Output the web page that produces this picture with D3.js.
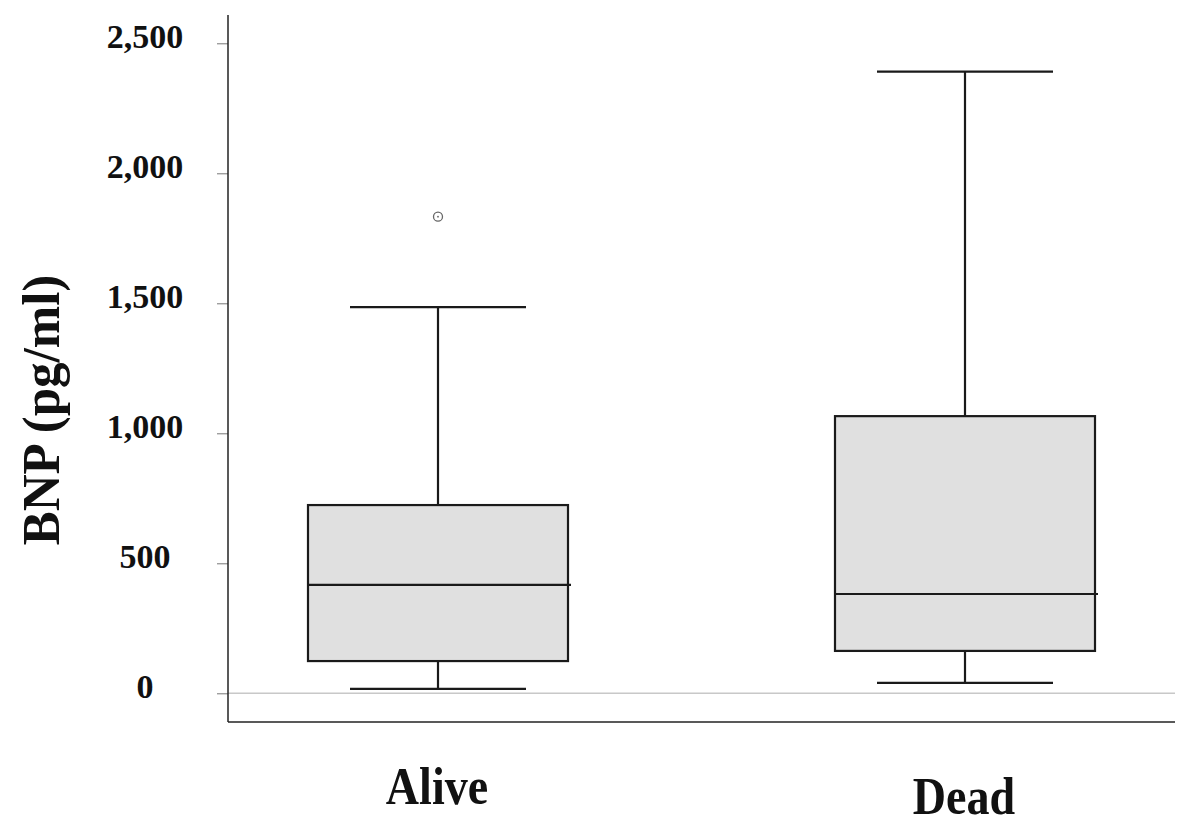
<!DOCTYPE html>
<html>
<head>
<meta charset="utf-8">
<script src="https://cdn.jsdelivr.net/npm/d3@7"></script>
<style>
  body { margin: 0; background: #fff; }
  #chart svg { display: block; }
</style>
</head>
<body>
<div id="chart"></div>
<script>
const kSvgWidth = 1200;
const kSvgHeight = 833;

// data
const groups = ["Alive", "Dead"];
const lowerWhisker = [17, 40];
const q1 = [124, 163];
const median = [417, 382];
const q3 = [724, 1066];
const upperWhisker = [1485, 2391];
const outliers = [[1833], []];
const yTicks = [0, 500, 1000, 1500, 2000, 2500];

function createSvg()
{
  return d3.select("#chart")
    .append("svg")
    .attr("width", kSvgWidth)
    .attr("height", kSvgHeight)
    .style("font-family", "'Liberation Serif', 'DejaVu Serif', serif");
}

function drawChart(svg)
{
  const plotLeft = 228;
  const plotRight = 1175;
  const plotTop = 15;
  const plotBottom = 722;

  const yScale = d3.scaleLinear()
    .domain([0, 2500])
    .range([693.3, 43.3]);

  const xScale = d3.scalePoint()
    .domain(groups)
    .range([438, 965]);

  const boxW = 260;
  const capW = 176;

  // zero line
  svg.append("line")
    .attr("x1", plotLeft).attr("x2", plotRight)
    .attr("y1", yScale(0)).attr("y2", yScale(0))
    .attr("stroke", "#c8c8c8")
    .attr("stroke-width", 1.5);

  // y axis
  const yAxis = d3.axisLeft(yScale)
    .tickValues(yTicks)
    .tickFormat(d3.format(","))
    .tickSize(11);

  const gy = svg.append("g")
    .attr("transform", `translate(${plotLeft}, 0)`)
    .call(yAxis);
  gy.select(".domain").remove();
  gy.selectAll(".tick line").attr("stroke", "#777").attr("stroke-width", 1);
  gy.selectAll(".tick text")
    .attr("x", -83)
    .attr("dy", "0.12em")
    .attr("text-anchor", "middle")
    .attr("fill", "#111")
    .style("font-family", "'Liberation Serif', serif")
    .style("font-weight", "bold")
    .style("font-size", "34px");

  // axis frame lines
  svg.append("line")
    .attr("x1", plotLeft).attr("x2", plotLeft)
    .attr("y1", plotTop).attr("y2", plotBottom)
    .attr("stroke", "#222").attr("stroke-width", 1.5);
  svg.append("line")
    .attr("x1", plotLeft).attr("x2", plotRight)
    .attr("y1", plotBottom).attr("y2", plotBottom)
    .attr("stroke", "#222").attr("stroke-width", 1.5);

  const g = svg.selectAll(".box")
    .data(groups)
    .enter()
    .append("g")
    .attr("class", "box");

  const stroke = "#1a1a1a";
  const sw = 2.2;

  // whisker stems
  g.append("line")
    .attr("x1", d => xScale(d)).attr("x2", d => xScale(d))
    .attr("y1", (d, i) => yScale(upperWhisker[i]))
    .attr("y2", (d, i) => yScale(q3[i]))
    .attr("stroke", stroke).attr("stroke-width", sw);
  g.append("line")
    .attr("x1", d => xScale(d)).attr("x2", d => xScale(d))
    .attr("y1", (d, i) => yScale(q1[i]))
    .attr("y2", (d, i) => yScale(lowerWhisker[i]))
    .attr("stroke", stroke).attr("stroke-width", sw);

  // caps
  g.append("line")
    .attr("x1", d => xScale(d) - capW / 2).attr("x2", d => xScale(d) + capW / 2)
    .attr("y1", (d, i) => yScale(upperWhisker[i]))
    .attr("y2", (d, i) => yScale(upperWhisker[i]))
    .attr("stroke", stroke).attr("stroke-width", sw);
  g.append("line")
    .attr("x1", d => xScale(d) - capW / 2).attr("x2", d => xScale(d) + capW / 2)
    .attr("y1", (d, i) => yScale(lowerWhisker[i]))
    .attr("y2", (d, i) => yScale(lowerWhisker[i]))
    .attr("stroke", stroke).attr("stroke-width", sw);

  // boxes
  g.append("rect")
    .attr("x", d => xScale(d) - boxW / 2)
    .attr("width", boxW)
    .attr("y", (d, i) => yScale(q3[i]))
    .attr("height", (d, i) => yScale(q1[i]) - yScale(q3[i]))
    .attr("fill", "#e0e0e0")
    .attr("stroke", stroke).attr("stroke-width", sw);

  // medians
  g.append("line")
    .attr("x1", d => xScale(d) - boxW / 2).attr("x2", d => xScale(d) + boxW / 2 + 3)
    .attr("y1", (d, i) => yScale(median[i]))
    .attr("y2", (d, i) => yScale(median[i]))
    .attr("stroke", stroke).attr("stroke-width", sw);

  // outliers
  g.each(function(d, i) {
    const sel = d3.select(this);
    outliers[i].forEach(v => {
      sel.append("circle")
        .attr("cx", xScale(d)).attr("cy", yScale(v))
        .attr("r", 4.5)
        .attr("fill", "#fff")
        .attr("stroke", "#666").attr("stroke-width", 1.3);
      sel.append("circle")
        .attr("cx", xScale(d)).attr("cy", yScale(v))
        .attr("r", 0.9)
        .attr("fill", "#666");
    });
  });

  // category labels (slightly condensed look)
  const labelBase = [804, 814];
  svg.selectAll(".cat")
    .data(groups)
    .enter()
    .append("text")
    .attr("class", "cat")
    .attr("transform", (d, i) => `translate(${xScale(d) - 1}, ${labelBase[i]}) scale(0.96, 1.1)`)
    .attr("text-anchor", "middle")
    .style("font-weight", "bold")
    .style("font-size", "48px")
    .attr("fill", "#111")
    .text(d => d);

  // y title
  svg.append("text")
    .attr("transform", "translate(59, 410) rotate(-90) scale(1.02, 1.05)")
    .attr("text-anchor", "middle")
    .style("font-weight", "bold")
    .style("font-size", "50px")
    .attr("fill", "#111")
    .text("BNP (pg/ml)");
}

document.addEventListener('DOMContentLoaded', () => {
  const svg = createSvg();
  drawChart(svg);
});
</script>
</body>
</html>
